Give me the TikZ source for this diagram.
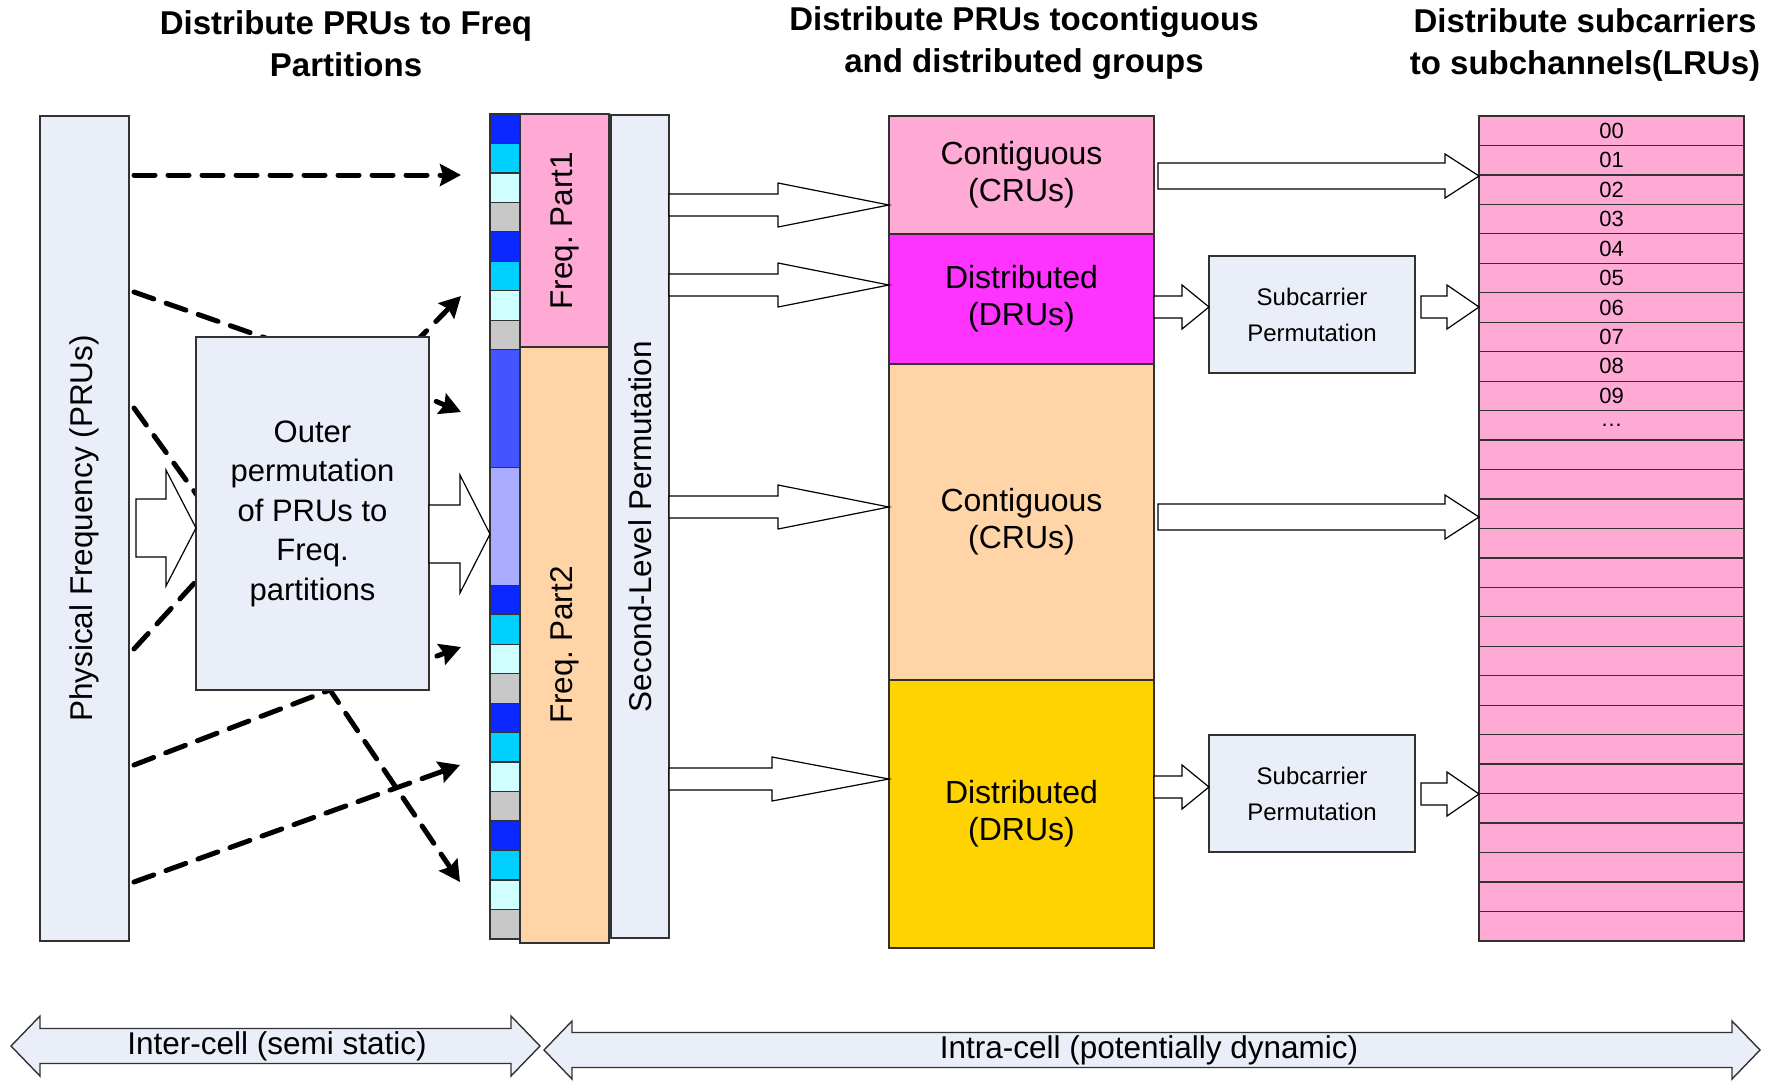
\documentclass[tikz,border=0pt]{standalone}
\usepackage{fontspec}
\setmainfont{Liberation Sans}
\usetikzlibrary{arrows.meta, calc, positioning}

\definecolor{boxfill}{RGB}{234,238,248}
\definecolor{pinkfill}{RGB}{255,170,212}
\definecolor{peachfill}{RGB}{255,213,168}
\definecolor{magfill}{RGB}{255,51,255}
\definecolor{goldfill}{RGB}{255,211,0}
\definecolor{cellblue}{RGB}{10,40,255}
\definecolor{cellcyan}{RGB}{0,208,255}
\definecolor{celllight}{RGB}{208,255,255}
\definecolor{cellgray}{RGB}{200,200,200}
\definecolor{cellmid}{RGB}{68,85,255}
\definecolor{celllav}{RGB}{170,172,255}
\definecolor{edge}{RGB}{50,50,50}

% hollow block arrow: tail, tip, y (px), shaft half, head half, head length
\newcommand{\fatarrow}[6]{%
  \draw[fat] let \p1=(#1), \p2=(#2), \p3=(0,#3) in
    (\x1,\y3+#4) -- (\x2-#6,\y3+#4) -- (\x2-#6,\y3+#5) -- (\x2,\y3)
    -- (\x2-#6,\y3-#5) -- (\x2-#6,\y3-#4) -- (\x1,\y3-#4) -- cycle;}
% double headed band: x1, x2, y, shaft half, head half, head length
\newcommand{\twoway}[6]{%
  \draw[band] (#1,#3) -- (#1+#6,#3-#5) -- (#1+#6,#3-#4) -- (#2-#6,#3-#4)
    -- (#2-#6,#3-#5) -- (#2,#3) -- (#2-#6,#3+#5) -- (#2-#6,#3+#4)
    -- (#1+#6,#3+#4) -- (#1+#6,#3+#5) -- cycle;}

\begin{document}
\begin{tikzpicture}[x=1pt, y=-1pt,
  box/.style={draw=edge, line width=1.3pt, anchor=north west, inner sep=0pt, outer sep=0pt,
    align=center, font=\fontsize{32}{37}\selectfont},
  lrurow/.style={box, fill=pinkfill, minimum width=265pt, minimum height=29.46pt,
    font=\fontsize{22}{26}\selectfont},
  cell/.style={draw=edge, line width=1.3pt},
  lbl/.style={font=\fontsize{31.5}{38}\selectfont, inner sep=0pt},
  head/.style={font=\fontsize{33}{42}\selectfont\bfseries, align=center, inner sep=0pt},
  fat/.style={draw=black, line width=1.2pt, fill=white},
  band/.style={draw=edge, line width=1.4pt, fill=boxfill},
  perm/.style={line width=5pt, dash pattern=on 21pt off 13pt, line cap=round},
  permtip/.style={perm, -{Stealth[length=21pt, width=22pt, inset=3pt]}}]
\useasboundingbox (0,0) rectangle (1784,1080);

% headings
\node[head] (h1) at (346,44) {Distribute PRUs to Freq\\Partitions};
\node[head] (h2) at (1024,43) {Distribute PRUs tocontiguous\\and distributed groups};
\node[head] (h3) at (1585,45) {Distribute subcarriers\\to subchannels(LRUs)};

% outer permutation lines (under the box)
\foreach \n/\x/\y in {s1/134/175, t1/461/175, s2/134/292, v2/380/378, t2/461/296,
    s3/134/408, i3/220/527, o3/405/388, t3/461/412, s4/134/649, i4/232/542,
    o4/405/668, t4/461/647, s5/134/765, v5/330/690, t5/460/882, s6/134/882, t6/460/765}
  \coordinate (\n) at (\x,\y);
\draw[permtip] (s1) -- (t1);
\draw[permtip] (s2) -- (v2) -- (t2);
\draw[perm] (s3) -- (i3);
\draw[permtip] (o3) -- (t3);
\draw[perm] (s4) -- (i4);
\draw[permtip] (o4) -- (t4);
\draw[permtip] (s5) -- (v5) -- (t5);
\draw[permtip] (s6) -- (t6);

% left part
\node[box, fill=boxfill, minimum width=89pt, minimum height=825pt] (pf) at (40,116) {};
\node[lbl, rotate=90] (pftext) at (pf.center) {Physical Frequency (PRUs)};
\node[box, fill=boxfill, minimum width=233pt, minimum height=353pt,
  font=\fontsize{31}{39.5}\selectfont] (outer) at (196,337)
  {Outer\\permutation\\of PRUs to\\Freq.\\partitions};

% PRU strip
\node[anchor=north west, inner sep=0pt, outer sep=0pt, minimum width=30pt,
  minimum height=825pt] (strip) at (490,114) {};
\foreach \c [count=\i from 0] in {cellblue,cellcyan,celllight,cellgray,cellblue,cellcyan,celllight,cellgray}
  \draw[cell, fill=\c] (490,114+\i*29.46) rectangle ++(30,29.46);
\draw[cell, fill=cellmid] (490,349.7) rectangle ++(30,117.8);
\draw[cell, fill=celllav] (490,467.5) rectangle ++(30,117.8);
\foreach \c [count=\i from 16] in {cellblue,cellcyan,celllight,cellgray,cellblue,cellcyan,celllight,cellgray,cellblue,cellcyan,celllight,cellgray}
  \draw[cell, fill=\c] (490,114+\i*29.46) rectangle ++(30,29.46);

\node[box, fill=pinkfill, minimum width=89pt, minimum height=233pt] (part1) at (520,114) {};
\node[box, fill=peachfill, minimum width=89pt, minimum height=596pt, below=0pt of part1] (part2) {};
\node[lbl, rotate=90] (part1text) at (part1.center) {Freq.\ Part1};
\node[lbl, rotate=90] (part2text) at (part2.center) {Freq.\ Part2};
\node[box, fill=boxfill, minimum width=58pt, minimum height=823pt] (slp) at (611,115) {};
\node[lbl, rotate=90] (slptext) at (slp.center) {Second-Level Permutation};

% groups
\node[box, fill=pinkfill, minimum width=265pt, minimum height=118pt] (cru1) at (889,116) {Contiguous\\(CRUs)};
\node[box, fill=magfill, minimum width=265pt, minimum height=130pt, below=0pt of cru1] (dru1) {Distributed\\(DRUs)};
\node[box, fill=peachfill, minimum width=265pt, minimum height=316pt, below=0pt of dru1] (cru2) {Contiguous\\(CRUs)};
\node[box, fill=goldfill, minimum width=265pt, minimum height=268pt, below=0pt of cru2] (dru2) {Distributed\\(DRUs)};

\node[box, fill=boxfill, minimum width=206pt, minimum height=117pt,
  font=\fontsize{24}{36}\selectfont] (sub1) at (1209,256) {Subcarrier\\Permutation};
\node[box, fill=boxfill, minimum width=206pt, minimum height=117pt,
  font=\fontsize{24}{36}\selectfont] (sub2) at (1209,735) {Subcarrier\\Permutation};

% LRUs
\node[lrurow] (lru0) at (1479,116) {00};
\foreach \t [count=\i] in {01,02,03,04,05,06,07,08,09,\ldots,{},{},{},{},{},{},{},{},{},{},{},{},{},{},{},{},{}} {
  \pgfmathtruncatemacro\j{\i-1}
  \node[lrurow, below=0pt of lru\j] (lru\i) {\t};
}

% block arrows
\fatarrow{[xshift=7pt]pf.east}{outer.west}{528}{29pt}{58pt}{30pt}
\fatarrow{outer.east}{strip.west}{534}{29pt}{59pt}{30pt}
\fatarrow{slp.east}{cru1.west}{205}{11pt}{22pt}{111pt}
\fatarrow{slp.east}{dru1.west}{285}{11pt}{22pt}{111pt}
\fatarrow{slp.east}{cru2.west}{507}{11pt}{22pt}{111pt}
\fatarrow{slp.east}{dru2.west}{779}{11pt}{22pt}{117pt}
\fatarrow{[xshift=4pt]cru1.east}{lru0.west}{176}{13pt}{22pt}{34pt}
\fatarrow{[xshift=4pt]cru2.east}{lru0.west}{517}{13pt}{22pt}{34pt}
\fatarrow{dru1.east}{sub1.west}{307}{11pt}{22pt}{27pt}
\fatarrow{[xshift=6pt]sub1.east}{lru0.west}{307}{11pt}{22pt}{32pt}
\fatarrow{dru2.east}{sub2.west}{787}{11pt}{22pt}{27pt}
\fatarrow{[xshift=6pt]sub2.east}{lru0.west}{794}{11pt}{22pt}{32pt}

% time scale bands
\twoway{11}{540}{1046}{17.5}{30}{29}
\twoway{544}{1760}{1050}{17.5}{29}{28}
\node[lbl] (inter) at (277,1046) {Inter-cell (semi static)};
\node[lbl] (intra) at (1149,1050) {Intra-cell (potentially dynamic)};
\end{tikzpicture}
\end{document}
